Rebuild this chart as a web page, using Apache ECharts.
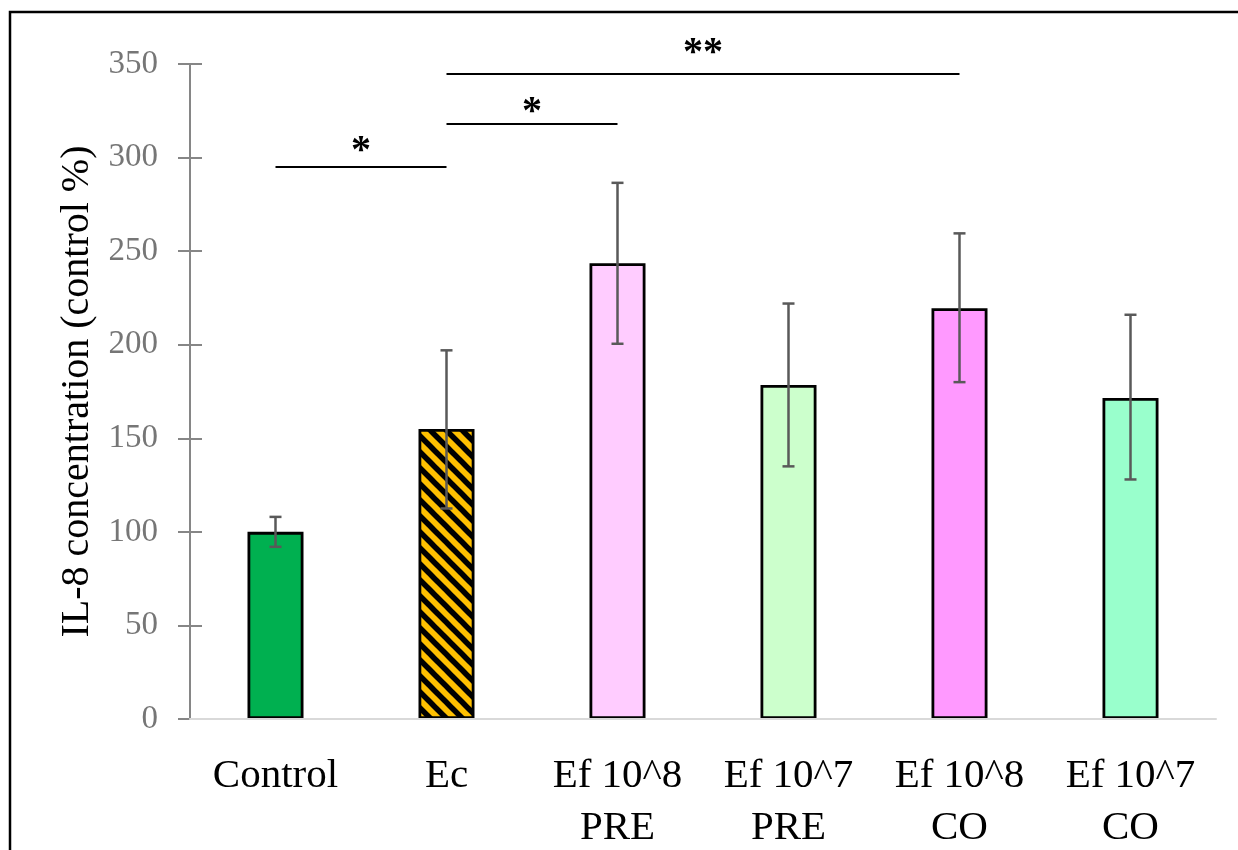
<!DOCTYPE html>
<html>
<head>
<meta charset="utf-8">
<script src="https://cdn.jsdelivr.net/npm/echarts@6/dist/echarts.min.js"></script>
<style>
  html, body { margin: 0; padding: 0; background: #fff; }
  #chart { width: 1238px; height: 850px; }
</style>
</head>
<body>
<div id="chart"></div>
<script>
// categories (x axis)
const categories = ["Control", "Ec", "Ef 10^8\nPRE", "Ef 10^7\nPRE", "Ef 10^8\nCO", "Ef 10^7\nCO"];
// mean IL-8 concentration (control %)
const means = [100, 155, 243.5, 178.5, 219.5, 171.5];
// error bar ends
const errLow = [92, 112.5, 200.5, 135, 180, 128];
const errHigh = [108, 197, 286.5, 222, 259.5, 216];
// y axis ticks
const yMin = 0;
const yMax = 350;
const yStep = 50;
// significance brackets: from category, to category, height, label
const bracketFrom = [0, 1, 1];
const bracketTo = [1, 2, 4];
const bracketY = [295, 318, 345];
const bracketLabel = ["*", "*", "**"];

// fill colours (style only)
const barColors = ["#00B050", "hatch", "#FFCCFF", "#CCFFCC", "#FF99FF", "#99FFCC"];
// label offset above each bracket line (style only)
const bracketLabelGap = [-5, -9, 0];

// diagonal yellow/black stripes for the Ec bar
function hatchPattern() {
  const s = 16;
  const c = document.createElement("canvas");
  c.width = s;
  c.height = s;
  const ctx = c.getContext("2d");
  ctx.fillStyle = "#FFC000";
  ctx.fillRect(0, 0, s, s);
  ctx.strokeStyle = "#000";
  ctx.lineWidth = 5.5;
  for (let k = -1; k <= 1; k++) {
    ctx.beginPath();
    ctx.moveTo(-2, k * s - 2);
    ctx.lineTo(s + 2, s + k * s + 2);
    ctx.stroke();
  }
  return { image: c, repeat: "repeat" };
}

const chart = echarts.init(document.getElementById("chart"));
const serif = "'Liberation Serif', 'DejaVu Serif', serif";

const barData = means.map((v, i) => ({
  value: v,
  itemStyle: {
    color: barColors[i] === "hatch" ? hatchPattern() : barColors[i],
  },
}));

const errData = means.map((v, i) => [i, errLow[i], errHigh[i]]);

const markLines = bracketFrom.map((f, i) => [
  {
    coord: [f, bracketY[i]],
    label: { formatter: bracketLabel[i], distance: bracketLabelGap[i] },
  },
  { coord: [bracketTo[i], bracketY[i]] },
]);

const innerTicks = [];
for (let v = yMin + yStep; v <= yMax; v += yStep) innerTicks.push(v);

let options = {
  animation: false,
  backgroundColor: "#fff",
  graphic: [
    {
      type: "rect",
      shape: { x: 10, y: 12, width: 1300, height: 900 },
      style: { fill: "none", stroke: "#000", lineWidth: 2.5 },
      silent: true,
      z: 100,
    },
  ],
  grid: {
    left: 190,
    right: 22,
    top: 64,
    bottom: 131,
    containLabel: false,
    outerBoundsMode: "none",
  },
  xAxis: {
    type: "category",
    data: categories,
    axisLine: { lineStyle: { color: "#D9D9D9", width: 2 } },
    axisTick: { show: false },
    axisLabel: {
      interval: 0,
      color: "#000",
      fontFamily: serif,
      fontSize: 41,
      lineHeight: 52,
      margin: 31,
    },
    z: 3,
  },
  yAxis: [
    {
      type: "value",
      min: yMin,
      max: yMax,
      interval: yStep,
      name: "IL-8 concentration (control %)",
      nameLocation: "middle",
      nameGap: 90,
      nameTextStyle: { color: "#000", fontFamily: serif, fontSize: 40 },
      axisLine: { show: true, lineStyle: { color: "#868686", width: 2 } },
      axisTick: { show: true, length: 12, lineStyle: { color: "#868686", width: 2 } },
      axisLabel: { color: "#767676", fontFamily: serif, fontSize: 33, margin: 32 },
      splitLine: { show: false },
    },
    {
      // inner half of the crossing tick marks
      type: "value",
      min: yMin,
      max: yMax,
      interval: yStep,
      position: "left",
      axisLine: { show: false },
      axisTick: {
        show: true,
        inside: true,
        length: 12,
        customValues: innerTicks,
        lineStyle: { color: "#868686", width: 2 },
      },
      axisLabel: { show: false },
      splitLine: { show: false },
    },
  ],
  series: [
    {
      name: "IL-8",
      type: "bar",
      data: barData,
      barWidth: 56,
      itemStyle: { borderColor: "#000", borderWidth: 2.8 },
      markLine: {
        silent: true,
        symbol: "none",
        lineStyle: { color: "#000", width: 2, type: "solid" },
        label: {
          show: true,
          position: "middle",
          color: "#000",
          fontFamily: serif,
          fontSize: 40,
          fontWeight: "bold",
        },
        data: markLines,
      },
      z: 2,
    },
    {
      name: "error",
      type: "custom",
      data: errData,
      z: 5,
      renderItem: function (params, api) {
        const x = api.value(0);
        const lo = api.coord([x, api.value(1)]);
        const hi = api.coord([x, api.value(2)]);
        const cap = 6;
        const style = { stroke: "#595959", lineWidth: 2.5 };
        return {
          type: "group",
          children: [
            { type: "line", shape: { x1: lo[0], y1: lo[1], x2: hi[0], y2: hi[1] }, style: style },
            { type: "line", shape: { x1: lo[0] - cap, y1: lo[1], x2: lo[0] + cap, y2: lo[1] }, style: style },
            { type: "line", shape: { x1: hi[0] - cap, y1: hi[1], x2: hi[0] + cap, y2: hi[1] }, style: style },
          ],
        };
      },
    },
  ],
};

chart.setOption(options);
</script>
</body>
</html>
